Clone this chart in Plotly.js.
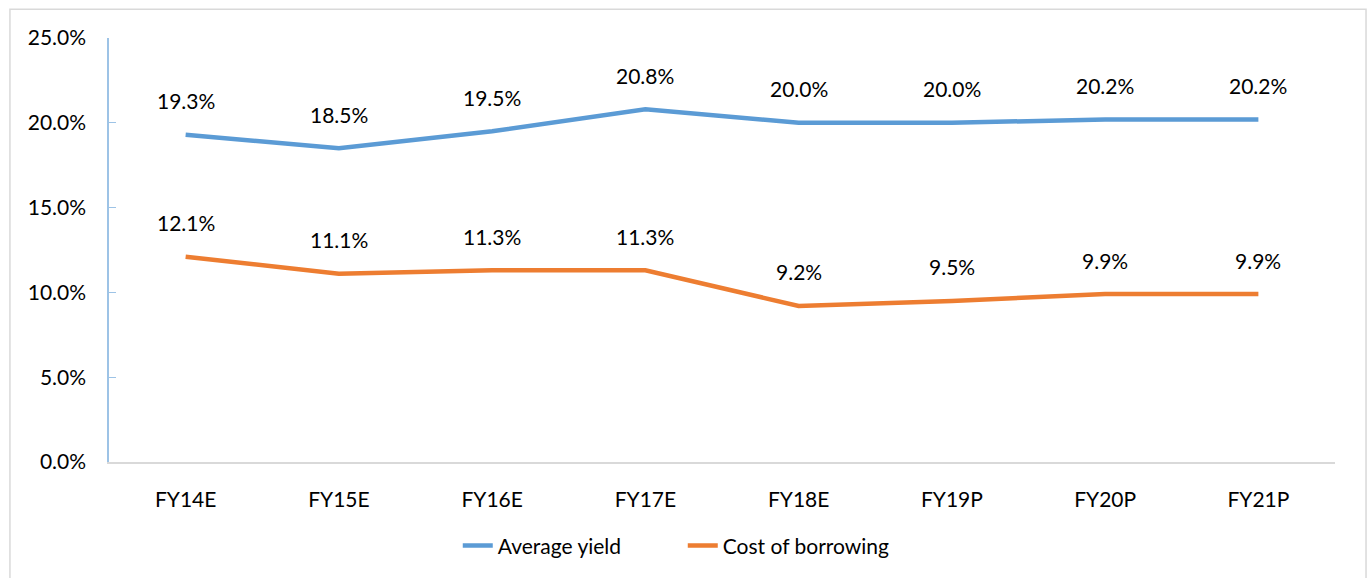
<!DOCTYPE html>
<html>
<head>
<meta charset="utf-8">
<script src="https://cdn.plot.ly/plotly-3.0.1.min.js"></script>
<style>
  body { margin: 0; background: #fff; }
  #chart { width: 1371px; height: 578px; }
</style>
</head>
<body>
<div id="chart"></div>
<script>
// Years on the x axis
var years = ["FY14E", "FY15E", "FY16E", "FY17E", "FY18E", "FY19P", "FY20P", "FY21P"];

// Percent values
var avgYield = [19.3, 18.5, 19.5, 20.8, 20.0, 20.0, 20.2, 20.2];
var costOfBorrowing = [12.1, 11.1, 11.3, 11.3, 9.2, 9.5, 9.9, 9.9];

var yTicks = [0, 5, 10, 15, 20, 25];

var blue = "#5b9bd5";
var orange = "#ed7d31";
var fontFam = "Lato, 'Open Sans', sans-serif";
var fs = 21;

var traceYield = {
  x: years,
  y: avgYield,
  name: "Average yield",
  type: "scatter",
  mode: "lines",
  line: {color: blue, width: 4.5}
};

var traceCost = {
  x: years,
  y: costOfBorrowing,
  name: "Cost of borrowing",
  type: "scatter",
  mode: "lines",
  line: {color: orange, width: 4.5}
};

// data labels above each point
function makeLabels(vals) {
  return vals.map(function(v, i) {
    return {
      x: years[i], y: v, xref: "x", yref: "y",
      text: v.toFixed(1) + "%",
      showarrow: false, yshift: 34,
      font: {family: fontFam, size: fs, color: "#000"}
    };
  });
}

var layout = {
  width: 1371,
  height: 578,
  margin: {l: 109, r: 36, t: 38, b: 116},
  paper_bgcolor: "#fff",
  plot_bgcolor: "#fff",
  font: {family: fontFam, size: fs, color: "#000"},
  showlegend: true,
  legend: {
    orientation: "h",
    x: 0.468, xanchor: "center",
    y: -0.198, yanchor: "middle",
    font: {family: fontFam, size: fs, color: "#000"},
    entrywidth: 180
  },
  xaxis: {
    type: "category",
    range: [-0.5, 7.5],
    showgrid: false,
    zeroline: false,
    showline: true,
    linecolor: "#d9d9d9",
    linewidth: 1.5,
    ticks: "",
    ticklabelstandoff: 18,
    tickfont: {family: fontFam, size: fs, color: "#000"}
  },
  yaxis: {
    range: [0, 25],
    tickvals: yTicks,
    ticktext: yTicks.map(function(t) { return t.toFixed(1) + "%"; }),
    showgrid: false,
    zeroline: false,
    showline: true,
    linecolor: "#9dc3e6",
    linewidth: 1.5,
    ticks: "inside",
    ticklen: 7,
    tickcolor: "#9dc3e6",
    ticklabelstandoff: 17,
    tickfont: {family: fontFam, size: fs, color: "#000"}
  },
  annotations: makeLabels(avgYield).concat(makeLabels(costOfBorrowing)),
  shapes: [{
    type: "rect", xref: "paper", yref: "paper",
    x0: -0.0808, x1: 1.0253, y0: -0.29, y1: 1.068,
    line: {color: "#d9d9d9", width: 1.5},
    fillcolor: "rgba(0,0,0,0)"
  }]
};

Plotly.newPlot("chart", [traceYield, traceCost], layout, {displayModeBar: false});
</script>
</body>
</html>
